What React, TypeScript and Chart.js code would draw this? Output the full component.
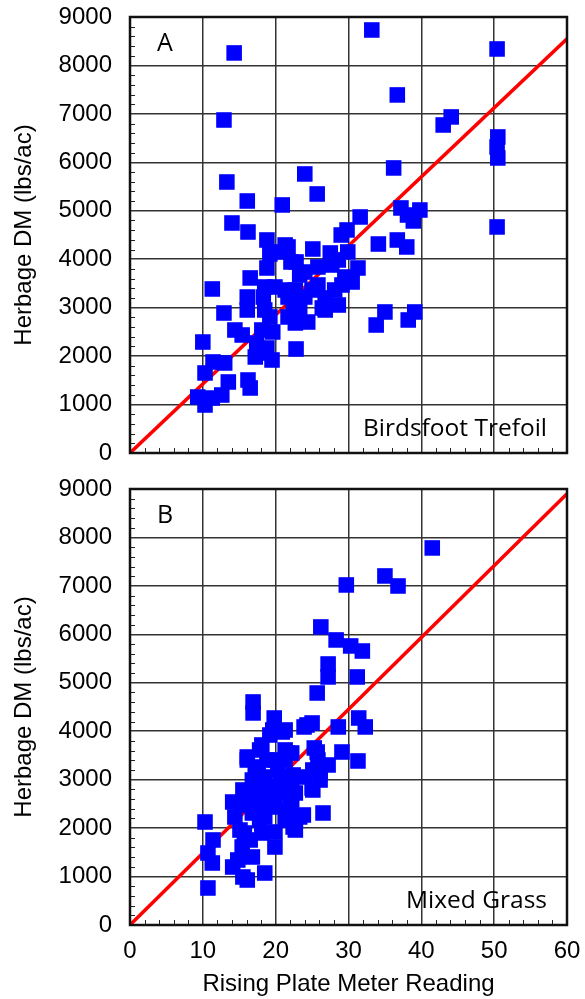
import React, { useEffect, useRef } from 'react';
import { Chart, registerables } from 'chart.js';

Chart.register(...registerables);

// ---------- data ----------
const xTickValues = [0, 10, 20, 30, 40, 50, 60];
const yTickValues = [0, 1000, 2000, 3000, 4000, 5000, 6000, 7000, 8000, 9000];
const xMinorStep = 2;
const yMinorStep = 200;

const axisXTitle = 'Rising Plate Meter Reading';
const axisYTitle = 'Herbage DM (lbs/ac)';

const panelLetters = ['A', 'B'];
const panelCaptions = ['Birdsfoot Trefoil', 'Mixed Grass'];

// [plate meter reading, herbage DM]
const trefoilPoints: [number, number][] = [
  [14.3, 8258], [12.9, 6874], [13.3, 5594], [16.1, 5202], [20.9, 5120], [14.0, 4748],
  [16.2, 4562], [18.8, 4397], [21.3, 4294], [19.2, 4108], [20.6, 4150], [33.2, 8732],
  [50.4, 8340], [36.7, 7391], [44.1, 6937], [43.0, 6771], [50.5, 6524], [50.4, 6317],
  [50.5, 6090], [36.2, 5884], [24.0, 5760], [25.7, 5347], [37.2, 5058], [39.8, 5016],
  [38.9, 4790], [38.1, 4913], [31.6, 4872], [50.4, 4666], [29.8, 4604], [29.0, 4500],
  [34.1, 4314], [36.7, 4397], [38.0, 4253], [21.7, 4253], [25.1, 4211], [27.5, 4129],
  [29.9, 4150], [28.6, 3984], [31.3, 3819], [24.0, 3736], [25.8, 3840], [27.7, 3881],
  [29.5, 3633], [29.1, 3468], [30.5, 3530], [22.7, 3365], [21.7, 3220], [24.0, 3220],
  [26.8, 3200], [28.6, 3055], [26.8, 2952], [24.4, 2704], [22.7, 2684], [22.8, 2147],
  [35.0, 2911], [33.8, 2642], [39.1, 2911], [38.2, 2746], [18.8, 3819], [16.5, 3613],
  [11.3, 3386], [18.5, 3427], [19.9, 3427], [21.3, 3365], [16.1, 3220], [18.3, 3220],
  [16.1, 2952], [12.9, 2890], [18.5, 2952], [19.2, 2808], [21.7, 2808], [14.4, 2539],
  [15.4, 2436], [18.1, 2539], [19.6, 2498], [17.4, 2271], [18.8, 2168], [19.5, 1920],
  [17.2, 1982], [10.0, 2291], [11.4, 1879], [13.0, 1858], [10.3, 1652], [13.5, 1466],
  [16.2, 1507], [16.5, 1342], [9.3, 1156], [12.6, 1197], [10.3, 991], [11.3, 1135],
  [22.1, 3943], [23.3, 3675], [22.4, 3055], [17.8, 2064], [26.4, 2994],
  [22.8, 3943], [25.8, 3468], [28.1, 3365], [25.0, 3365], [23.3, 2952],
];

const grassPoints: [number, number][] = [
  [41.5, 7783], [35.0, 7205], [36.8, 6998], [29.7, 7019], [26.2, 6152], [28.3, 5884],
  [30.3, 5760], [31.9, 5656], [27.2, 5388], [27.2, 5120], [31.2, 5120], [25.7, 4789],
  [25.0, 4170], [23.9, 4088], [28.6, 4088], [31.4, 4273], [32.3, 4088], [21.3, 4026],
  [25.3, 3654], [29.1, 3571], [31.3, 3386], [22.2, 3551], [25.8, 3406], [27.2, 3303],
  [26.1, 3138], [25.0, 2828], [26.5, 2312], [22.7, 2168], [23.8, 2271], [22.4, 2023],
  [22.7, 2725], [16.9, 4604], [16.9, 4377], [19.8, 4273], [19.2, 3922], [20.9, 3984],
  [17.8, 3613], [16.1, 3406], [21.3, 3613], [17.2, 3262], [15.5, 2787], [14.1, 2539],
  [10.3, 2126], [11.4, 1755], [10.7, 1486], [11.3, 1280], [14.1, 1197], [15.5, 991],
  [18.5, 1073], [10.7, 764], [19.9, 1610], [15.4, 1610], [14.8, 1342], [16.8, 1404],
  [15.7, 1899], [18.1, 1899], [14.4, 2230], [16.8, 2312], [18.5, 2230], [15.4, 2519],
  [17.2, 2725], [19.0, 2849], [20.9, 2725], [22.2, 2580], [22.2, 2230], [20.3, 3200],
  [21.7, 3055], [18.5, 3055], [16.8, 2993], [21.3, 3406], [18.1, 2519], [19.9, 2436],
  [16.1, 929], [15.1, 1961], [16.1, 3468], [19.6, 4026], [21.6, 3551], [24.3, 4129],
  [25.7, 3571], [26.1, 2993], [25.1, 2787], [22.0, 2539], [22.4, 3097], [25.1, 3200],
  [24.0, 3055], [22.2, 2849], [21.7, 2374], [23.3, 2230], [22.7, 1961], [18.8, 3406],
  [18.1, 3716], [19.9, 3406], [17.6, 3200], [20.6, 2993], [19.2, 2684], [16.2, 2477],
  [17.8, 2168], [21.3, 2168], [19.9, 1920], [16.5, 1755], [18.5, 2787],
];

// regression lines through origin: [x, y] end points
const trefoilLine: [number, number][] = [[0, 0], [60, 8550]];
const grassLine: [number, number][] = [[0, 0], [60, 8900]];

// ---------- styling ----------
const FONT = "'Liberation Sans', Arial, Helvetica, sans-serif";
const CAPTION_FONT = "'Open Sans', 'Noto Sans', sans-serif";
const GRID = '#333333';

function decorPlugin(letter: string, caption: string) {
  return {
    id: 'decor',
    afterDraw(chart: any) {
      const { ctx, chartArea, scales } = chart;
      const { left, right, top, bottom } = chartArea;
      const xs = scales.x;
      const ys = scales.y;
      ctx.save();
      ctx.strokeStyle = '#222';
      ctx.lineWidth = 1;
      for (let v = yMinorStep; v < 9000; v += yMinorStep) {
        if (v % 1000 === 0) continue;
        const py = Math.round(ys.getPixelForValue(v)) + 0.5;
        ctx.beginPath();
        ctx.moveTo(left, py);
        ctx.lineTo(left + 5, py);
        ctx.stroke();
      }
      for (let v = xMinorStep; v < 60; v += xMinorStep) {
        if (v % 10 === 0) continue;
        const px = Math.round(xs.getPixelForValue(v)) + 0.5;
        ctx.beginPath();
        ctx.moveTo(px, bottom);
        ctx.lineTo(px, bottom - 5);
        ctx.stroke();
      }
      ctx.strokeStyle = '#111';
      ctx.lineWidth = 2.5;
      ctx.strokeRect(left, top, right - left, bottom - top);

      ctx.fillStyle = '#000';
      ctx.font = `25px ${CAPTION_FONT}`;
      ctx.textBaseline = 'alphabetic';
      ctx.textAlign = 'left';
      ctx.fillText(letter, left + 27, top + 34);
      ctx.font = `24.5px ${CAPTION_FONT}`;
      ctx.textAlign = 'right';
      ctx.fillText(caption, right - 20, bottom - 17);
      ctx.restore();
    },
  };
}

function zeroPadding(s: any) {
  s.paddingTop = 0;
  s.paddingBottom = 0;
  s.paddingLeft = 0;
  s.paddingRight = 0;
}

function makeConfig(idx: number, points: [number, number][], line: [number, number][]) {
  const bottomPanel = idx === 1;
  return {
    type: 'scatter' as const,
    data: {
      datasets: [
        {
          data: points.map(([x, y]) => ({ x, y })),
          backgroundColor: '#0000ff',
          borderWidth: 0,
          pointStyle: 'rect',
          pointRadius: 11,
          pointHoverRadius: 11,
        },
        {
          data: line.map(([x, y]) => ({ x, y })),
          showLine: true,
          borderColor: '#ff0000',
          borderWidth: 3.5,
          pointRadius: 0,
          fill: false,
        },
      ],
    },
    options: {
      animation: false,
      responsive: false,
      maintainAspectRatio: false,
      events: [],
      layout: { padding: { top: bottomPanel ? 19 : 17, right: 18, left: 0, bottom: 0 } },
      plugins: { legend: { display: false }, tooltip: { enabled: false } },
      scales: {
        x: {
          type: 'linear',
          min: 0,
          max: 60,
          afterBuildTicks: (s: any) => {
            s.ticks = xTickValues.map((v) => ({ value: v }));
          },
          ticks: {
            display: bottomPanel,
            padding: 12,
            color: '#000',
            font: { size: 24, family: FONT },
            callback: (v: number) => String(v),
            autoSkip: false,
            maxRotation: 0,
          },
          grid: { color: GRID, lineWidth: 1.5, drawTicks: false },
          border: { display: false },
          title: {
            display: bottomPanel,
            text: axisXTitle,
            color: '#000',
            font: { size: 24, family: FONT },
            padding: { top: 0, bottom: 0 },
          },
          afterFit: (s: any) => {
            s.height = bottomPanel ? 74 : 17;
            zeroPadding(s);
          },
        },
        y: {
          type: 'linear',
          min: 0,
          max: 9000,
          afterBuildTicks: (s: any) => {
            s.ticks = yTickValues.map((v) => ({ value: v }));
          },
          ticks: {
            padding: 18,
            color: '#000',
            font: { size: 24, family: FONT },
            callback: (v: number) => String(v),
            autoSkip: false,
          },
          grid: { color: GRID, lineWidth: 1.5, drawTicks: false },
          border: { display: false },
          title: {
            display: true,
            text: axisYTitle,
            color: '#000',
            font: { size: 24, family: FONT },
            padding: { top: 10, bottom: 0 },
          },
          afterFit: (s: any) => {
            s.width = 130;
            zeroPadding(s);
          },
        },
      },
    },
    plugins: [decorPlugin(panelLetters[idx], panelCaptions[idx])],
  };
}

function Panel({ idx, points, line, height }: { idx: number; points: [number, number][]; line: [number, number][]; height: number }) {
  const ref = useRef<HTMLCanvasElement | null>(null);
  useEffect(() => {
    if (!ref.current) return;
    const chart = new Chart(ref.current, makeConfig(idx, points, line) as any);
    return () => chart.destroy();
  }, [idx, points, line]);
  return <canvas ref={ref} width={585} height={height} style={{ display: 'block', width: 585, height }} />;
}

export default function App() {
  return (
    <div style={{ position: 'absolute', left: 0, top: 0, width: 585, height: 999, background: '#fff' }}>
      <Panel idx={0} points={trefoilPoints} line={trefoilLine} height={470} />
      <Panel idx={1} points={grassPoints} line={grassLine} height={529} />
    </div>
  );
}
